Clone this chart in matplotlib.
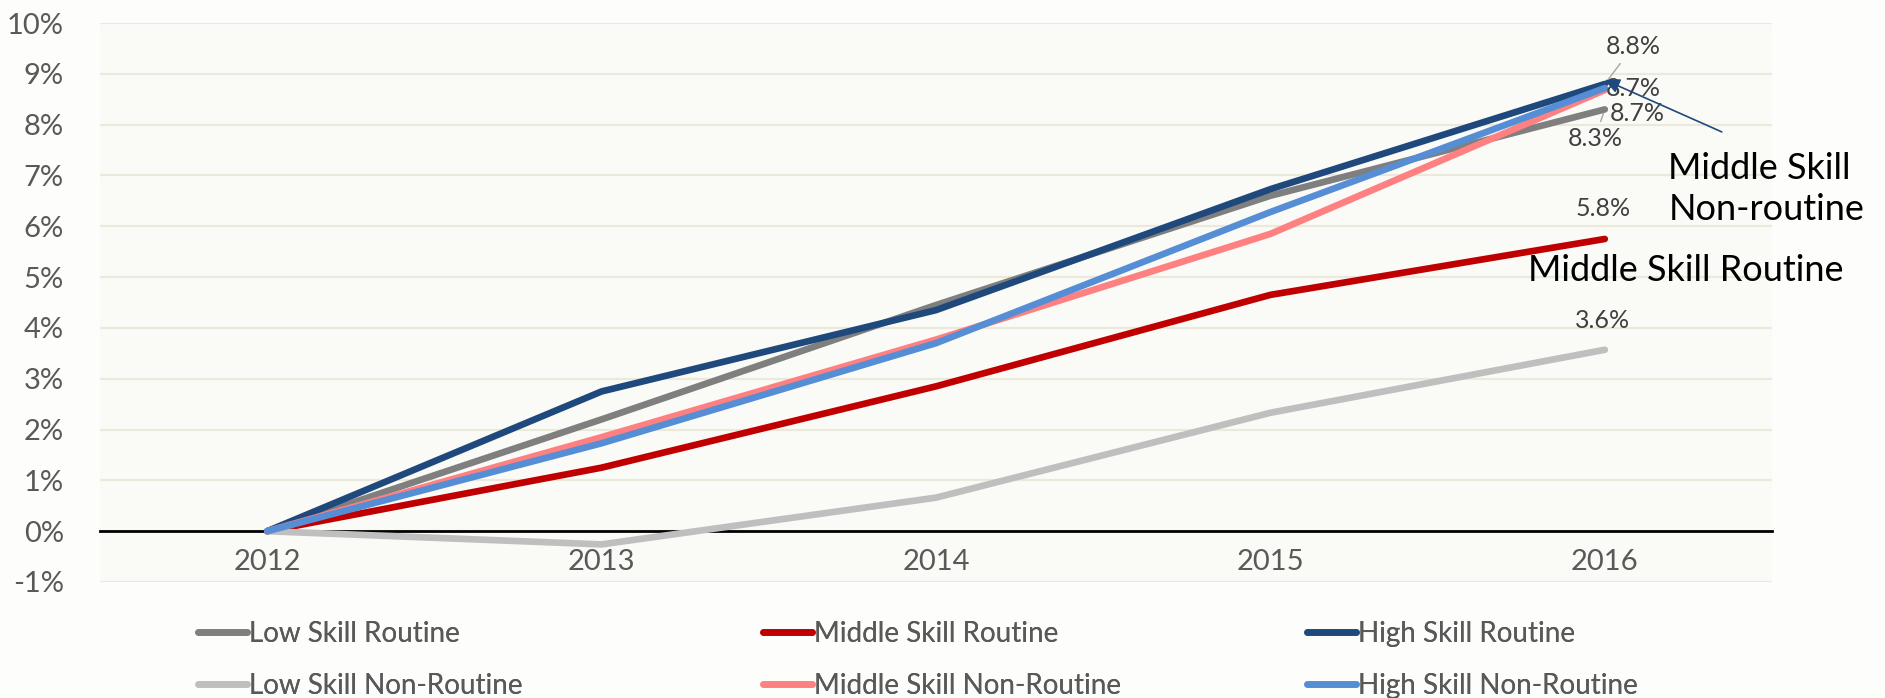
import numpy as np
import matplotlib.pyplot as plt
from matplotlib.lines import Line2D

# growth since 2012 (%)
years = [2012, 2013, 2014, 2015, 2016]
low_routine = [0.0, 2.2, 4.45, 6.6, 8.3]
middle_routine = [0.0, 1.25, 2.85, 4.65, 5.75]
high_routine = [0.0, 2.75, 4.35, 6.73, 8.8]
low_nonroutine = [0.0, -0.26, 0.66, 2.33, 3.57]
middle_nonroutine = [0.0, 1.85, 3.77, 5.85, 8.68]
high_nonroutine = [0.0, 1.73, 3.7, 6.28, 8.72]

names = ['Low Skill Routine', 'Middle Skill Routine', 'High Skill Routine',
         'Low Skill Non-Routine', 'Middle Skill Non-Routine', 'High Skill Non-Routine']
series = [low_routine, middle_routine, high_routine,
          low_nonroutine, middle_nonroutine, high_nonroutine]
colors = ['#7F7F7F', '#C00000', '#1F497D', '#BFBFBF', '#FF8080', '#558ED5']

plt.rcParams['font.family'] = ['Lato', 'DejaVu Sans']

fig = plt.figure(figsize=(18.85, 6.98), dpi=100, facecolor='#FDFDFB')
ax = fig.add_axes([100 / 1885, 1 - 582 / 698, (1772 - 100) / 1885, (582 - 23) / 698])
ax.set_facecolor('#FAFAF6')

lines = []
for vals, name, c in zip(series, names, colors):
    ln, = ax.plot(years, vals, color=c, lw=4.8, solid_capstyle='round',
                  solid_joinstyle='round', label=name, zorder=3)
    lines.append(ln)

ax.set_xlim(2011.5, 2016.5)
ax.set_ylim(-1, 10)
ax.set_yticks(range(-1, 11))
ax.set_yticklabels([f'{v}%' for v in range(-1, 11)])
ax.set_xticks(years)
ax.set_xticklabels([str(y) for y in years])
ax.yaxis.grid(True, color='#ECE8DC', lw=1.5)
ax.set_axisbelow(True)
for s in ['top', 'right', 'left']:
    ax.spines[s].set_visible(False)
ax.spines['bottom'].set_position(('data', 0))
ax.spines['bottom'].set_color('black')
ax.spines['bottom'].set_linewidth(2)
ax.spines['bottom'].set_zorder(2)
ax.tick_params(axis='y', length=0, pad=26, labelsize=21, labelcolor='#595959')
ax.tick_params(axis='x', length=0, pad=13, labelsize=21, labelcolor='#595959')

# end-of-line value labels
lbl_style = dict(textcoords='offset pixels', ha='center', va='center',
                 fontsize=18, color='#404040', annotation_clip=False, zorder=5)
ax.annotate(f'{high_routine[-1]:.1f}%', xy=(years[-1], high_routine[-1]), xytext=(28, 37),
            arrowprops=dict(arrowstyle='-', color='#A6A6A6', lw=1, shrinkA=2, shrinkB=4), **lbl_style)
ax.annotate(f'{high_nonroutine[-1]:.1f}%', xy=(years[-1], high_nonroutine[-1]), xytext=(28, 0), **lbl_style)
ax.annotate(f'{middle_nonroutine[-1]:.1f}%', xy=(years[-1], middle_nonroutine[-1]), xytext=(32, -23), **lbl_style)
ax.annotate(f'{low_routine[-1]:.1f}%', xy=(years[-1], low_routine[-1]), xytext=(-10, -29),
            arrowprops=dict(arrowstyle='-', color='#A6A6A6', lw=1, shrinkA=2, shrinkB=3), **lbl_style)
ax.annotate(f'{middle_routine[-1]:.1f}%', xy=(years[-1], middle_routine[-1]), xytext=(-2, 30), **lbl_style)
ax.annotate(f'{low_nonroutine[-1]:.1f}%', xy=(years[-1], low_nonroutine[-1]), xytext=(-2, 29), **lbl_style)

# callouts
ax.annotate('', xy=(years[-1], 8.88), xytext=(117, -52), textcoords='offset pixels',
            arrowprops=dict(arrowstyle='-|>', color='#1F497D', lw=1.2, mutation_scale=22,
                            shrinkA=0, shrinkB=0), annotation_clip=False, zorder=6)
ax.text(years[-1] + 0.19, 6.73, 'Middle Skill\nNon-routine', fontsize=26, color='black',
        ha='left', va='center', linespacing=1.3, clip_on=False)
ax.text(years[-1] - 0.23, 5.13, 'Middle Skill Routine', fontsize=26, color='black',
        ha='left', va='center', clip_on=False)

# legend, three columns placed like the original
col_x = [198 / 1885, 763 / 1885, 1307 / 1885]
for k in range(3):
    leg = fig.legend(handles=[lines[k], lines[k + 3]], loc='center left',
                     bbox_to_anchor=(col_x[k], 1 - 660 / 698), frameon=False,
                     fontsize=20, handlelength=1.75, handletextpad=0.1,
                     labelspacing=0.95, borderpad=0, borderaxespad=0)
    for t in leg.get_texts():
        t.set_color('#595959')
    fig.add_artist(leg)

fig.savefig('out.png', dpi=100, facecolor=fig.get_facecolor())
